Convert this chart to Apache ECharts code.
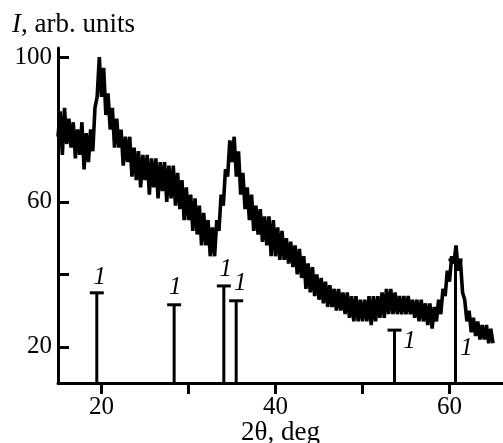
<!DOCTYPE html>
<html>
<head>
<meta charset="utf-8">
<script src="https://cdn.jsdelivr.net/npm/echarts@6/dist/echarts.min.js"></script>
<style>
html,body{margin:0;padding:0;background:#fff;}
#c{width:503px;height:443px;}
</style>
</head>
<body>
<div id="c"></div>
<script>
// ---- data ----
const xTickValues = [20, 30, 40, 50, 60];
const xLabelValues = [20, 40, 60];
const yTickValues = [20, 40, 60, 80, 100];
const yLabelValues = [20, 60, 100];
const xTitle = '2θ, deg';
const yTitle = 'I, arb. units';

// reference lines (phase 1): position (2θ) and height
const stickPositions = [19.46, 28.35, 34.06, 35.48, 53.68, 60.69];
const stickHeights = [34.9, 31.6, 36.8, 32.7, 24.6, 44.0];
const stickLabels = ['1', '1', '1', '1', '1', '1'];

// measured XRD scan [2θ, I]
const scan = [
[15.00,78],[15.25,85],[15.50,73],[15.75,86],[16.00,76],[16.25,83],[16.50,75],[16.75,82],
[17.00,72],[17.25,80],[17.50,73],[17.75,82],[18.00,69],[18.25,79],[18.50,71],[18.75,80],
[19.00,74],[19.25,86],[19.50,89],[19.75,100],[20.00,89],[20.25,97],[20.50,84],[20.75,90],
[21.00,80],[21.25,86],[21.50,75],[21.75,83],[22.00,75],[22.25,80],[22.50,70],[22.75,78],
[23.00,71],[23.25,78],[23.50,67],[23.75,75],[24.00,66],[24.25,74],[24.50,64],[24.75,73],
[25.00,66],[25.25,73],[25.50,62],[25.75,72],[26.00,64],[26.25,72],[26.50,61],[26.75,71],
[27.00,63],[27.25,71],[27.50,60],[27.75,70],[28.00,61],[28.25,70],[28.50,59],[28.75,68],
[29.00,58],[29.25,66],[29.50,55],[29.75,64],[30.00,55],[30.25,62],[30.50,52],[30.75,61],
[31.00,51],[31.25,59],[31.50,48],[31.75,57],[32.00,48],[32.25,55],[32.50,45],[32.75,53],
[33.00,45],[33.25,55],[33.50,52],[33.75,62],[34.00,59],[34.25,69],[34.50,67],[34.75,77],
[35.00,71],[35.25,78],[35.50,67],[35.75,74],[36.00,62],[36.25,68],[36.50,58],[36.75,64],
[37.00,55],[37.25,62],[37.50,52],[37.75,59],[38.00,51],[38.25,58],[38.50,49],[38.75,56],
[39.00,48],[39.25,56],[39.50,45],[39.75,55],[40.00,45],[40.25,53],[40.50,44],[40.75,52],
[41.00,44],[41.25,50],[41.50,43],[41.75,49],[42.00,42],[42.25,48],[42.50,40],[42.75,47],
[43.00,39],[43.25,45],[43.50,36],[43.75,43],[44.00,35],[44.25,42],[44.50,34],[44.75,40],
[45.00,33],[45.25,39],[45.50,32],[45.75,38],[46.00,31],[46.25,37],[46.50,31],[46.75,36],
[47.00,30],[47.25,36],[47.50,30],[47.75,35],[48.00,29],[48.25,35],[48.50,28],[48.75,34],
[49.00,27],[49.25,34],[49.50,27],[49.75,33],[50.00,27],[50.25,33],[50.50,27],[50.75,34],
[51.00,26],[51.25,34],[51.50,27],[51.75,34],[52.00,28],[52.25,35],[52.50,28],[52.75,36],
[53.00,29],[53.25,36],[53.50,29],[53.75,35],[54.00,29],[54.25,34],[54.50,29],[54.75,34],
[55.00,29],[55.25,34],[55.50,29],[55.75,33],[56.00,28],[56.25,33],[56.50,27],[56.75,33],
[57.00,27],[57.25,32],[57.50,26],[57.75,32],[58.00,25],[58.25,31],[58.50,27],[58.75,33],
[59.00,29],[59.25,36],[59.50,34],[59.75,41],[60.00,38],[60.25,45],[60.50,43],[60.75,48],
[61.00,41],[61.25,44],[61.50,35],[61.75,33],[62.00,27],[62.25,30],[62.50,24],[62.75,28],
[63.00,23],[63.25,27],[63.50,22],[63.75,26],[64.00,22],[64.25,26],[64.50,21],[64.75,25],
[65.00,21]
];

// ---- chart ----
const FONT = '"Liberation Serif", "Times New Roman", serif';
const X_MIN = 15, X_MAX = 66.15, Y_MIN = 10, Y_MAX = 102.5;
const labelOffsets = [[3,-15],[1,-17],[2,-17],[4,-17],[15,11],[11,89]];

const chart = echarts.init(document.getElementById('c'), null, {renderer: 'canvas'});
chart.setOption({
  animation: false,
  backgroundColor: '#fff',
  grid: {left: 58, right: 0, top: 48, bottom: 60, containLabel: false, outerBoundsMode: 'none'},
  xAxis: {
    type: 'value', min: X_MIN, max: X_MAX,
    name: xTitle, nameLocation: 'middle', nameGap: 36, nameMoveOverlap: false,
    nameTextStyle: {fontFamily: FONT, fontSize: 27, color: '#000', lineHeight: 27},
    axisLine: {show: true, onZero: false, lineStyle: {color: '#000', width: 3}},
    axisTick: {show: true, inside: false, length: 11, lineStyle: {color: '#000', width: 3}, customValues: xTickValues},
    axisLabel: {color: '#000', fontFamily: FONT, fontSize: 25, margin: 12, customValues: xLabelValues},
    splitLine: {show: false}
  },
  yAxis: {
    type: 'value', min: Y_MIN, max: Y_MAX,
    axisLine: {show: true, onZero: false, lineStyle: {color: '#000', width: 3}},
    axisTick: {show: true, inside: true, length: 11, lineStyle: {color: '#000', width: 3}, customValues: yTickValues},
    axisLabel: {color: '#000', fontFamily: FONT, fontSize: 25, margin: 6, customValues: yLabelValues},
    splitLine: {show: false}
  },
  graphic: [{
    type: 'text', left: 12, top: 11,
    style: {
      text: '{i|I}, arb. units',
      font: '27px ' + FONT, fill: '#000',
      rich: {i: {fontStyle: 'italic', fontFamily: FONT, fontSize: 27, fill: '#000'}}
    }
  }],
  series: [
    {
      type: 'custom',
      z: 2,
      data: stickPositions.map((p, i) => [p, stickHeights[i]]),
      renderItem: function (params, api) {
        const i = params.dataIndex;
        const base = api.coord([api.value(0), Y_MIN]);
        const top = api.coord([api.value(0), api.value(1)]);
        const off = labelOffsets[i];
        return {
          type: 'group',
          children: [
            {type: 'line', shape: {x1: base[0], y1: base[1], x2: top[0], y2: top[1]}, style: {stroke: '#000', lineWidth: 3}},
            {type: 'line', shape: {x1: top[0] - 7, y1: top[1], x2: top[0] + 7, y2: top[1]}, style: {stroke: '#000', lineWidth: 3}},
            {type: 'text', x: top[0] + off[0], y: top[1] + off[1],
             style: {text: stickLabels[i], font: 'italic 25px ' + FONT, fill: '#000', align: 'center', verticalAlign: 'middle'}}
          ]
        };
      }
    },
    {
      type: 'line',
      z: 3,
      data: scan,
      showSymbol: false,
      symbol: 'none',
      lineStyle: {color: '#000', width: 3.6, join: 'bevel'},
      clip: true
    }
  ]
});
</script>
</body>
</html>
